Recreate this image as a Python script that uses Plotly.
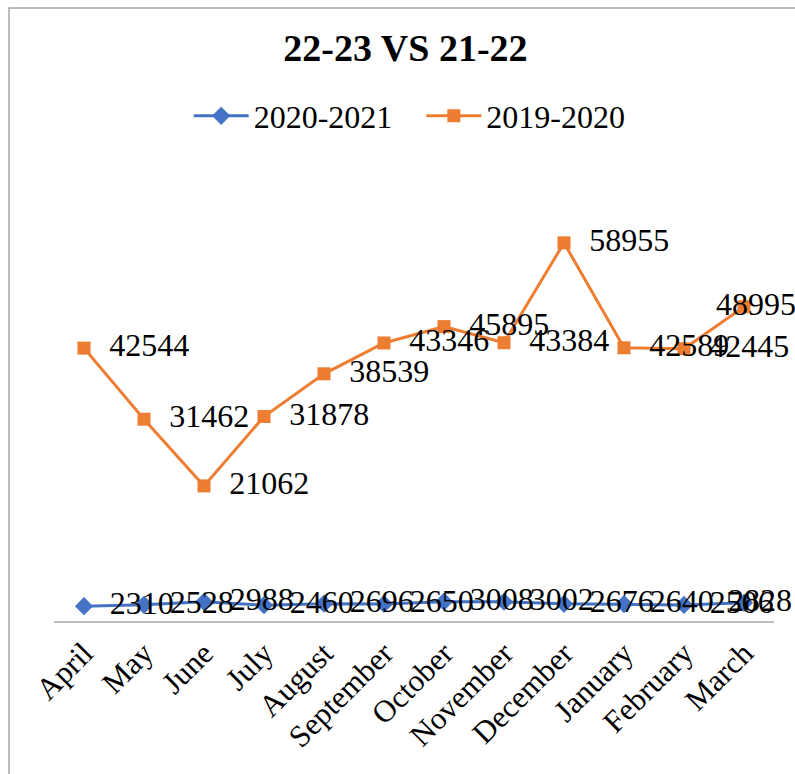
import plotly.graph_objects as go

months = ["April", "May", "June", "July", "August", "September", "October",
          "November", "December", "January", "February", "March"]
s2020_2021 = [2310, 2528, 2988, 2460, 2696, 2650, 3008, 3002, 2676, 2640, 2506, 2828]
s2019_2020 = [42544, 31462, 21062, 31878, 38539, 43346, 45895, 43384, 58955, 42589, 42445, 48995]

FONT = "Liberation Serif, Times New Roman, serif"
BLUE = "#4472C4"
ORANGE = "#ED7D31"

# labels sit right of the points, except the last one which is pulled back inside the frame
positions = ["middle right"] * (len(months) - 1) + ["middle center"]

fig = go.Figure()
fig.add_trace(go.Scatter(
    x=months, y=s2020_2021, name="2020-2021&nbsp;&nbsp;&nbsp;", mode="lines+markers+text",
    line=dict(color=BLUE, width=3), marker=dict(symbol="diamond", size=14, color=BLUE),
    text=["  " + str(v) for v in s2020_2021[:-1]] + ["    " + str(s2020_2021[-1])],
    textposition=positions,
    textfont=dict(family=FONT, size=32, color="black"), cliponaxis=False))
fig.add_trace(go.Scatter(
    x=months, y=s2019_2020, name="2019-2020", mode="lines+markers+text",
    line=dict(color=ORANGE, width=3), marker=dict(symbol="square", size=13, color=ORANGE),
    text=["  " + str(v) for v in s2019_2020[:-1]] + ["   " + str(s2019_2020[-1])],
    textposition=positions,
    textfont=dict(family=FONT, size=32, color="black"), cliponaxis=False))

fig.update_layout(
    width=795, height=774,
    margin=dict(l=54, r=21, t=172, b=153, autoexpand=False),
    paper_bgcolor="white", plot_bgcolor="white",
    font=dict(family=FONT, color="black"),
    title=dict(text="<b>22-23 VS 21-22</b>", x=0.51, xanchor="center",
               y=1 - 48 / 774, yanchor="middle", font=dict(family=FONT, size=38, color="black")),
    legend=dict(orientation="h", x=0.494, xanchor="center", y=1 + 56 / 449, yanchor="middle",
                font=dict(family=FONT, size=32, color="black"), itemwidth=55,
                bgcolor="rgba(0,0,0,0)"),
    showlegend=True,
    xaxis=dict(showline=True, linecolor="#BFBFBF", linewidth=1.5, showgrid=False,
               range=[-0.5, len(months) - 0.5],
               ticks="", tickangle=-45, tickfont=dict(family=FONT, size=31, color="black"),
               zeroline=False, automargin=False),
    yaxis=dict(range=[0, 70000], visible=False, showgrid=False, zeroline=False, automargin=False),
    shapes=[dict(type="rect", xref="paper", yref="paper",
                 x0=(9 - 54) / 720, x1=1.2, y0=-0.5, y1=(621 - 8) / 449,
                 line=dict(color="#A6A6A6", width=1.5), layer="below")],
)

fig.write_html("out.html", config={"displayModeBar": False},
               post_script="document.body.style.margin='0';document.body.style.overflow='hidden';")
